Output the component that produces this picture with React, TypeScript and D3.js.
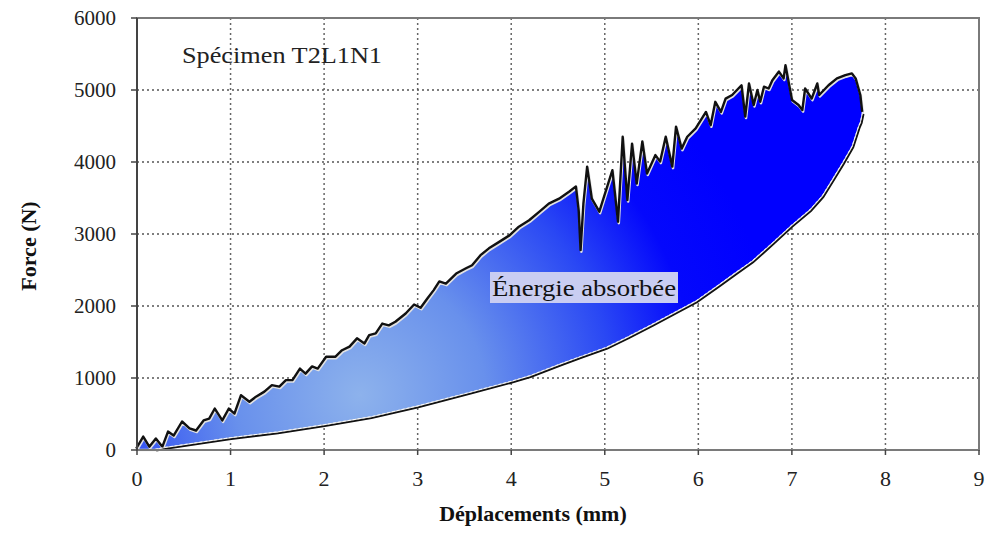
import * as d3 from "d3";

// Loading curve (mm, N)
const loadX = [0, 0.075, 0.14, 0.21, 0.28, 0.34, 0.4, 0.49, 0.57, 0.64, 0.72, 0.78, 0.84, 0.92, 0.99, 1.05, 1.12, 1.21, 1.28, 1.37, 1.45, 1.53, 1.6, 1.67, 1.75, 1.81, 1.88, 1.94, 2.03, 2.13, 2.2, 2.28, 2.36, 2.44, 2.49, 2.56, 2.63, 2.7, 2.77, 2.88, 2.97, 3.04, 3.11, 3.18, 3.24, 3.31, 3.42, 3.52, 3.59, 3.68, 3.77, 3.88, 3.99, 4.09, 4.2, 4.31, 4.41, 4.52, 4.63, 4.7, 4.73, 4.75, 4.78, 4.82, 4.87, 4.95, 5.09, 5.15, 5.2, 5.25, 5.3, 5.35, 5.41, 5.46, 5.55, 5.6, 5.66, 5.73, 5.77, 5.83, 5.89, 5.98, 6.09, 6.14, 6.19, 6.25, 6.3, 6.37, 6.47, 6.51, 6.55, 6.6, 6.64, 6.67, 6.71, 6.76, 6.8, 6.87, 6.92, 6.94, 6.98, 7.01, 7.08, 7.12, 7.15, 7.22, 7.28, 7.3, 7.4, 7.49, 7.58, 7.65, 7.69, 7.74, 7.76];
const loadF = [0, 165, 25, 140, 25, 235, 180, 375, 280, 250, 390, 415, 555, 390, 555, 485, 740, 650, 720, 790, 880, 860, 950, 950, 1110, 1040, 1140, 1110, 1275, 1275, 1365, 1415, 1530, 1460, 1575, 1600, 1735, 1710, 1760, 1875, 2000, 1955, 2080, 2200, 2320, 2290, 2430, 2500, 2545, 2685, 2780, 2870, 2960, 3080, 3170, 3290, 3400, 3470, 3570, 3640, 3300, 2755, 3400, 3915, 3470, 3290, 3865, 3150, 4330, 3450, 4235, 3680, 4265, 3820, 4075, 3985, 4330, 3915, 4470, 4165, 4330, 4445, 4675, 4490, 4815, 4675, 4860, 4910, 5045, 4610, 5070, 4770, 4980, 4815, 5025, 5000, 5115, 5235, 5140, 5325, 5045, 4840, 4770, 4700, 5000, 4860, 5070, 4910, 5045, 5140, 5185, 5210, 5140, 4910, 4675];

// Unloading curve, from the end of loading back to zero
const unloadX = [7.76, 7.74, 7.72, 7.65, 7.55, 7.44, 7.33, 7.2, 7.0, 6.8, 6.58, 6.4, 6.23, 5.98, 5.75, 5.51, 5.25, 5.02, 4.75, 4.52, 4.2, 4.02, 3.56, 3.0, 2.5, 2.0, 1.5, 1.0, 0.64, 0.3, 0.2];
const unloadF = [4675, 4550, 4490, 4210, 3985, 3750, 3520, 3330, 3110, 2870, 2615, 2450, 2290, 2060, 1900, 1735, 1560, 1415, 1290, 1180, 1020, 950, 790, 600, 450, 340, 240, 160, 90, 25, 0];

const xTicks = [0, 1, 2, 3, 4, 5, 6, 7, 8, 9];
const yTicks = [0, 1000, 2000, 3000, 4000, 5000, 6000];

const W = 986;
const H = 535;
const M = { left: 137, right: 979, top: 18, bottom: 450 };
const FONT = "'Liberation Serif', 'Times New Roman', serif";

export default function App() {
  const x = d3.scaleLinear().domain([0, 9]).range([M.left, M.right]);
  const y = d3.scaleLinear().domain([0, 6000]).range([M.bottom, M.top]);

  const loadPts: [number, number][] = loadX.map((v, i) => [x(v), y(loadF[i])]);
  const unloadPts: [number, number][] = unloadX.map((v, i) => [x(v), y(unloadF[i])]);

  const line = d3.line();
  const area = line([...loadPts, ...unloadPts.slice(1)]) + "Z";

  return (
    <svg width={W} height={H} style={{ position: "absolute", left: 0, top: 0, background: "#fff" }}>
      <defs>
        <radialGradient id="energy" gradientUnits="userSpaceOnUse" cx={360} cy={395} r={420}>
          <stop offset="0" stopColor="#8db2ec" />
          <stop offset="0.3" stopColor="#6890ec" />
          <stop offset="0.6" stopColor="#2a48f4" />
          <stop offset="0.8" stopColor="#0408fc" />
          <stop offset="1" stopColor="#0000ff" />
        </radialGradient>
      </defs>

      {/* grid */}
      {xTicks.slice(1, -1).map((t) => (
        <line key={"gx" + t} x1={x(t)} x2={x(t)} y1={M.top} y2={M.bottom}
          stroke="#666" strokeWidth={1.5} strokeDasharray="2 3" />
      ))}
      {yTicks.slice(1, -1).map((t) => (
        <line key={"gy" + t} x1={M.left} x2={M.right} y1={y(t)} y2={y(t)}
          stroke="#555" strokeWidth={1.5} strokeDasharray="2 3" />
      ))}

      {/* hysteresis loop */}
      <path d={area} fill="url(#energy)" stroke="#e2e2e2" strokeWidth={2.5} strokeLinejoin="round" />
      <path d={line(loadPts)!} fill="none" stroke="#111" strokeWidth={2.4}
        transform="translate(-0.8,-1.5)" strokeLinejoin="round" />
      <path d={line(unloadPts)!} fill="none" stroke="#111" strokeWidth={1.8}
        transform="translate(0.6,0.6)" />
      <path d={line(unloadPts)!} fill="none" stroke="#fff" strokeWidth={0.8}
        strokeDasharray="3 2" transform="translate(-0.6,-0.8)" />

      {/* frame */}
      <rect x={M.left} y={M.top} width={M.right - M.left} height={M.bottom - M.top}
        fill="none" stroke="#7a7a7a" strokeWidth={2} />
      <line x1={M.left} x2={M.left} y1={M.top} y2={M.bottom} stroke="#444" strokeWidth={2} />

      {/* ticks */}
      {yTicks.map((t) => (
        <g key={"yt" + t}>
          <line x1={M.left - 6} x2={M.left} y1={y(t)} y2={y(t)} stroke="#444" strokeWidth={1.5} />
          <text x={116} y={y(t)} dy="0.35em" textAnchor="end" fontFamily={FONT} fontSize={21} fill="#222">
            {t}
          </text>
        </g>
      ))}
      {xTicks.map((t) => (
        <g key={"xt" + t}>
          <line x1={x(t)} x2={x(t)} y1={M.bottom} y2={M.bottom + 5} stroke="#444" strokeWidth={1.5} />
          <text x={x(t)} y={478} dy="0.35em" textAnchor="middle" fontFamily={FONT} fontSize={22} fill="#222">
            {t}
          </text>
        </g>
      ))}

      {/* axis titles */}
      <text x={533} y={521} textAnchor="middle" fontFamily={FONT} fontSize={22} fontWeight="bold" fill="#111">
        Déplacements (mm)
      </text>
      <text transform="translate(36,246) rotate(-90)" textAnchor="middle" fontFamily={FONT}
        fontSize={22} fontWeight="bold" fill="#111">
        Force (N)
      </text>

      {/* annotations */}
      <text x={182} y={63} fontFamily={FONT} fontSize={23} fill="#222" textLength={200} lengthAdjust="spacingAndGlyphs">
        Spécimen T2L1N1
      </text>
      <rect x={490} y={272} width={188} height={31} fill="#c9cdf2" />
      <text x={492} y={296} fontFamily={FONT} fontSize={24} fill="#111" textLength={184} lengthAdjust="spacingAndGlyphs">
        Énergie absorbée
      </text>
    </svg>
  );
}
